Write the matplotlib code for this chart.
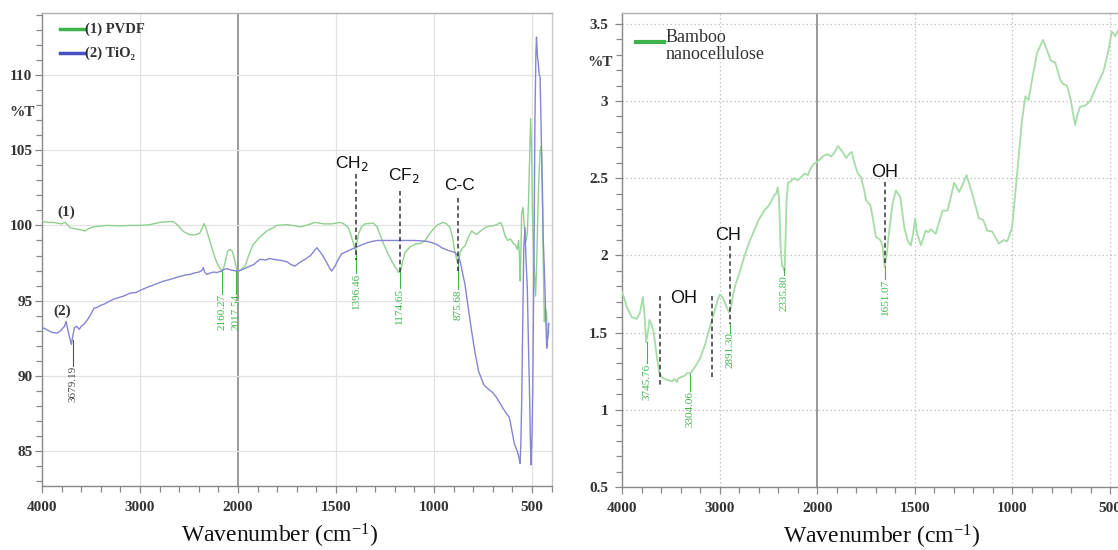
import numpy as np
import matplotlib
matplotlib.use("Agg")
import matplotlib.pyplot as plt
from matplotlib.ticker import FixedLocator, NullFormatter, FixedFormatter
from matplotlib.lines import Line2D

plt.rcParams['font.family'] = ['Liberation Serif', 'DejaVu Serif']
plt.rcParams['mathtext.fontset'] = 'custom'
plt.rcParams['mathtext.rm'] = 'Liberation Serif'
plt.rcParams['mathtext.it'] = 'Liberation Serif:italic'

# ---------------- data (left panel) ----------------
pvdf_wn = [4000, 3987, 3940, 3885, 3800, 3765, 3740, 3714, 3680, 3646, 3600, 3561, 3520, 3476, 3400,
           3340, 3200, 3100, 3000, 2900, 2796, 2700, 2660, 2630, 2609, 2580, 2558, 2500, 2456, 2420,
           2388, 2360, 2347, 2330, 2303, 2270, 2235, 2200, 2166, 2150, 2133, 2115, 2105, 2082, 2060,
           2048, 2030, 2010, 1990, 1964, 1940, 1922, 1890, 1854, 1820, 1803, 1750, 1709, 1684, 1640,
           1607, 1560, 1522, 1480, 1460, 1437, 1420, 1400, 1386, 1370, 1352, 1310, 1290, 1276, 1255,
           1233, 1210, 1180, 1170, 1160, 1148, 1120, 1097, 1070, 1046, 1025, 1004, 980, 953, 935,
           918, 905, 896, 880, 872, 867, 855, 842, 825, 808, 795, 782, 765, 740, 720,
           700, 680, 660, 650, 640, 625, 610, 595, 585, 575, 568, 563, 560, 556, 553,
           546, 540, 532, 524, 518, 513, 507, 502, 498, 494, 488, 482, 476, 470, 464,
           458, 452, 447, 442, 437, 432, 426, 420, 414]
pvdf_t = [100.3, 100.25, 100.2, 100.2, 100.1, 100.2, 100.05, 99.85, 99.8, 99.75, 99.7, 99.63, 99.8, 99.9, 99.95,
          100.0, 99.97, 100.0, 100.0, 100.05, 100.2, 100.25, 100.25, 100.1, 99.97, 99.75, 99.6, 99.4, 99.37, 99.4,
          99.5, 99.9, 100.12, 99.9, 99.3, 98.6, 97.85, 97.3, 96.97, 97.1, 97.5, 98.0, 98.3, 98.4, 98.3,
          98.07, 97.6, 96.97, 97.0, 97.3, 98.2, 98.75, 99.2, 99.63, 99.85, 100.0, 100.05, 99.97, 99.9, 100.05,
          100.2, 100.1, 100.1, 100.2, 100.1, 99.85, 99.2, 98.3, 99.4, 99.9, 100.1, 100.15, 99.9, 99.4, 98.7,
          98.07, 97.5, 96.87, 97.0, 97.6, 98.2, 98.6, 98.75, 98.8, 98.97, 99.4, 99.75, 100.05, 100.2, 100.1,
          99.85, 99.2, 98.4, 97.5, 97.6, 98.2, 98.5, 98.63, 99.2, 99.63, 99.5, 99.4, 99.6, 99.85, 99.95,
          99.97, 100.05, 100.2, 99.9, 99.4, 99.0, 99.1, 98.8, 98.7, 98.4, 99.0, 97.5, 96.3, 98.5, 100.8,
          101.2, 100.0, 98.9, 99.5, 101.5, 104.0, 107.1, 105.0, 101.0, 99.0, 97.0, 95.3, 97.5, 101.0, 103.5,
          105.0, 105.3, 103.0, 97.0, 93.6, 94.5, 94.2, 92.5, 93.0]

tio2_wn = [4000, 3970, 3952, 3900, 3850, 3820, 3799, 3770, 3755, 3740, 3720, 3700, 3690, 3670, 3646,
           3620, 3600, 3578, 3540, 3510, 3493, 3470, 3440, 3400, 3374, 3330, 3270, 3220, 3170, 3100,
           3040, 3000, 2940, 2880, 2830, 2760, 2700, 2660, 2600, 2540, 2490, 2440, 2400, 2370, 2354,
           2340, 2320, 2280, 2250, 2217, 2180, 2150, 2115, 2080, 2040, 2003, 1980, 1956, 1920, 1888,
           1860, 1840, 1820, 1790, 1752, 1730, 1709, 1690, 1658, 1630, 1598, 1585, 1573, 1550, 1530,
           1522, 1505, 1490, 1472, 1440, 1403, 1370, 1340, 1318, 1290, 1267, 1200, 1148, 1100, 1060,
           1029, 1000, 980, 961, 930, 893, 880, 867, 855, 842, 825, 808, 790, 772, 745,
           720, 700, 682, 650, 625, 617, 610, 600, 590, 575, 565, 561, 557, 553, 548,
           542, 536, 530, 524, 518, 513, 508, 505, 500, 496, 490, 485, 480, 477, 472,
           468, 463, 459, 455, 451, 447, 443, 438, 434, 430, 425, 420, 414]
tio2_t = [93.2, 93.15, 93.08, 92.9, 92.85, 92.95, 93.1, 93.3, 93.63, 93.2, 92.6, 92.1, 92.5, 93.2, 93.3,
          93.1, 93.3, 93.4, 93.7, 94.0, 94.2, 94.5, 94.55, 94.7, 94.75, 94.9, 95.1, 95.2, 95.3, 95.5,
          95.55, 95.68, 95.85, 96.0, 96.12, 96.3, 96.4, 96.48, 96.6, 96.7, 96.75, 96.85, 96.9, 97.0, 97.2,
          96.9, 96.75, 96.85, 96.9, 96.87, 96.95, 97.05, 97.13, 97.05, 97.0, 96.97, 97.05, 97.2, 97.4, 97.75,
          97.7, 97.8, 97.75, 97.7, 97.6, 97.4, 97.3, 97.5, 97.75, 98.0, 98.52, 98.3, 98.1, 97.6, 97.1,
          96.97, 97.3, 97.7, 98.1, 98.3, 98.52, 98.7, 98.85, 98.93, 99.0, 99.0, 99.0, 99.0, 99.0, 98.97,
          98.93, 98.8, 98.7, 98.52, 98.35, 98.2, 98.0, 97.63, 96.9, 96.08, 94.5, 92.97, 91.5, 90.3, 89.4,
          89.1, 88.9, 88.6, 87.9, 87.4, 87.3, 86.9, 86.2, 85.5, 85.0, 84.5, 84.2, 85.5, 88.0, 93.0,
          98.5, 99.85, 97.5, 95.9, 92.0, 89.2, 85.5, 84.1, 86.0, 89.2, 98.0, 107.0, 111.5, 112.5, 111.2,
          110.8, 110.0, 109.85, 107.5, 104.8, 102.0, 99.2, 97.3, 95.9, 93.8, 91.85, 92.5, 93.5]

# ---------------- data (right panel) ----------------
bamboo_wn = [4000, 3975, 3951, 3900, 3849, 3815, 3787, 3770, 3753, 3735, 3718, 3694, 3675, 3660, 3640,
             3615, 3590, 3557, 3520, 3488, 3460, 3440, 3420, 3402, 3360, 3330, 3299, 3260, 3230, 3196,
             3150, 3110, 3070, 3041, 3015, 2997, 2970, 2948, 2925, 2904, 2885, 2860, 2835, 2790, 2749,
             2700, 2646, 2600, 2543, 2500, 2474, 2440, 2420, 2405, 2392, 2375, 2360, 2345, 2335, 2325,
             2315, 2300, 2270, 2240, 2199, 2160, 2130, 2096, 2070, 2040, 2000, 1963, 1945, 1929, 1910,
             1894, 1870, 1852, 1835, 1823, 1810, 1792, 1776, 1759, 1750, 1728, 1715, 1699, 1677, 1665,
             1655, 1645, 1631, 1615, 1597, 1575, 1554, 1535, 1520, 1508, 1498, 1490, 1469, 1455, 1444,
             1430, 1418, 1393, 1375, 1358, 1333, 1315, 1299, 1273, 1255, 1235, 1206, 1172, 1150, 1129,
             1104, 1085, 1070, 1044, 1027, 1002, 976, 951, 934, 917, 900, 874, 844, 823, 803,
             781, 755, 740, 721, 701, 690, 679, 665, 653, 628, 602, 585, 568, 534, 508,
             491, 474, 459, 440, 400]
bamboo_t = [1.762, 1.72, 1.664, 1.60, 1.589, 1.63, 1.73, 1.62, 1.437, 1.50, 1.582, 1.545, 1.50, 1.427, 1.33,
            1.232, 1.21, 1.199, 1.19, 1.184, 1.20, 1.18, 1.205, 1.21, 1.22, 1.24, 1.235, 1.27, 1.30, 1.34,
            1.42, 1.513, 1.60, 1.664, 1.72, 1.745, 1.73, 1.697, 1.66, 1.632, 1.66, 1.75, 1.816, 1.90, 1.989,
            2.08, 2.162, 2.23, 2.29, 2.32, 2.346, 2.39, 2.40, 2.44, 2.38, 2.05, 1.93, 1.92, 1.90, 2.10,
            2.35, 2.47, 2.48, 2.50, 2.487, 2.51, 2.53, 2.52, 2.56, 2.59, 2.606, 2.65, 2.655, 2.64, 2.67,
            2.708, 2.67, 2.63, 2.66, 2.67, 2.60, 2.53, 2.508, 2.42, 2.357, 2.325, 2.24, 2.12, 2.10, 2.06,
            1.925, 2.00, 2.16, 2.33, 2.42, 2.38, 2.18, 2.09, 2.065, 2.15, 2.24, 2.15, 2.065, 2.12, 2.16,
            2.15, 2.17, 2.14, 2.22, 2.29, 2.29, 2.38, 2.47, 2.41, 2.46, 2.52, 2.40, 2.24, 2.23, 2.16,
            2.155, 2.11, 2.076, 2.10, 2.09, 2.18, 2.53, 2.877, 3.03, 3.006, 3.136, 3.31, 3.396, 3.33, 3.26,
            3.25, 3.136, 3.11, 3.10, 3.006, 2.92, 2.844, 2.92, 2.963, 2.97, 3.0, 3.05, 3.10, 3.19, 3.33,
            3.45, 3.42, 3.46, 3.44, 3.42]

# peak labels: (wavenumber, leader start, leader end / label top)
pvdf_peaks = [(2160.27, 96.95, 95.45), (2017.54, 96.95, 95.45), (1396.46, 98.3, 96.85),
              (1174.65, 96.9, 95.85), (875.68, 97.5, 95.75)]
tio2_peaks = [(3679.19, 92.4, 90.65)]
bamboo_peaks = [(3745.76, 1.437, 1.30), (3304.06, 1.232, 1.123), (2891.30, 1.556, 1.50),
                (2335.80, 1.92, 1.87), (1651.07, 1.93, 1.85)]

left_groups = ["CH$_2$", "CF$_2$", "C-C"]
left_group_wn = [1396.46, 1174.65, 875.68]
left_group_dash = [(103.4, 97.7), (102.3, 96.8), (101.8, 97.0)]
left_group_txt = [(1418, 104.1), (1153, 103.3), (872, 102.63)]

x_major = [4000, 3000, 2000, 1500, 1000, 500]
x_labels = ["4000", "3000", "2000", "1500", "1000", "500"]
x_minor = list(range(4000, 2000, -200)) + list(range(2000, 399, -100))
left_yticks = [85, 90, 95, 100, 105, 110]
right_yticks = [0.5, 1, 1.5, 2, 2.5, 3, 3.5]
right_ylabels = ["0.5", "1", "1.5", "2", "2.5", "3", "3.5"]


def fwd(w):
    w = np.asarray(w, dtype=float)
    return np.where(w <= 2000, w, 2000 + (w - 2000) / 2.0)


def inv(u):
    u = np.asarray(u, dtype=float)
    return np.where(u <= 2000, u, 2000 + (u - 2000) * 2.0)


W, H = 1118, 550
fig = plt.figure(figsize=(W / 100, H / 100), dpi=100)

GREEN = '#8fd08f'
BLUE = '#8585d4'
LBL_GREEN = '#3fb54a'


def style_axis(ax, grid_ls, grid_col):
    ax.set_xscale('function', functions=(fwd, inv))
    ax.set_xlim(4000, 400)
    ax.xaxis.set_major_locator(FixedLocator(x_major))
    ax.xaxis.set_major_formatter(FixedFormatter(x_labels))
    ax.xaxis.set_minor_locator(FixedLocator(x_minor))
    ax.xaxis.set_minor_formatter(NullFormatter())
    for w in [3000, 1500, 1000, 500]:
        ax.axvline(w, color=grid_col, lw=0.9, ls=grid_ls, zorder=0)
    ax.axvline(2000, color='#9a9a9a', lw=1.4, zorder=0)
    for s, c in [('left', '#888888'), ('bottom', '#888888'), ('top', '#b0b0b0'), ('right', '#c8c8c8')]:
        ax.spines[s].set_color(c)
        ax.spines[s].set_linewidth(1.0)
    ax.tick_params(which='both', direction='out', color='#888888', width=0.9)
    ax.tick_params(which='major', length=5)
    ax.tick_params(which='minor', length=4.5)
    ax.tick_params(axis='x', labelsize=11, labelcolor='#333333', pad=6)


# ---------------- left panel ----------------
ax1 = fig.add_axes([42 / W, 64 / H, 509.6 / W, 473 / H])
ax1.set_ylim(82.7, 114.1)
style_axis(ax1, '-', '#e2e2e2')
ax1.yaxis.set_major_locator(FixedLocator(left_yticks))
ax1.yaxis.set_minor_locator(FixedLocator(list(range(83, 115))))
ax1.yaxis.set_minor_formatter(NullFormatter())
ax1.tick_params(axis='y', labelsize=11, labelcolor='#333333', pad=2)
for v in left_yticks:
    ax1.axhline(v, color='#e2e2e2', lw=0.9, zorder=0)
for lab in ax1.get_xticklabels() + ax1.get_yticklabels():
    lab.set_fontweight('bold')

ax1.plot(pvdf_wn, pvdf_t, color=GREEN, lw=1.0, zorder=3)
ax1.plot(tio2_wn, tio2_t, color=BLUE, lw=1.0, zorder=3)

for (w, y0, y1) in pvdf_peaks:
    ax1.plot([w, w], [y0, y1], color=LBL_GREEN, lw=0.8, zorder=4)
    ax1.text(w, y1, f"{w:.2f}", rotation=90, ha='center', va='top', fontsize=8,
             color=LBL_GREEN, zorder=5)
for (w, y0, y1) in tio2_peaks:
    ax1.plot([w, w], [y0, y1], color='#555555', lw=0.8, zorder=4)
    ax1.text(w, y1, f"{w:.2f}", rotation=90, ha='center', va='top', fontsize=8,
             color='#444444', zorder=5)

for lab, w, (d0, d1), (tx, ty) in zip(left_groups, left_group_wn, left_group_dash, left_group_txt):
    ax1.plot([w, w], [d0, d1], color='#333333', lw=1.1, ls=(0, (3, 2)), zorder=6)
    ax1.text(tx, ty, lab, ha='center', va='center', fontsize=12.5, color='#111111',
             family=['Liberation Sans', 'DejaVu Sans'], zorder=6,
             math_fontfamily='dejavusans')

ax1.text(3755, 100.85, "(1)", ha='center', va='center', fontsize=11, color='#333333', fontweight='bold')
ax1.text(3791, 94.3, "(2)", ha='center', va='center', fontsize=11, color='#333333', fontweight='bold')

# legend (left)
fig.add_artist(Line2D([60 / W, 84 / W], [1 - 29 / H, 1 - 29 / H], color='#3cb44b', lw=2.5))
fig.add_artist(Line2D([60 / W, 84 / W], [1 - 53 / H, 1 - 53 / H], color='#4a4fc2', lw=2.5))
fig.text(85 / W, 1 - 29 / H, "(1) PVDF", ha='left', va='center', fontsize=10.5, color='#333333',
         fontweight='bold')
fig.text(85 / W, 1 - 53 / H, "(2) TiO\u2082", ha='left', va='center', fontsize=10.5, color='#333333',
         fontweight='bold')
fig.text(22 / W, 1 - 113 / H, "%T", ha='center', va='center', fontsize=11, color='#333333',
         fontweight='bold')
fig.text(280 / W, 1 - 536 / H, "Wavenumber (cm$^{\\mathregular{-1}}$)", ha='center', va='center',
         fontsize=17, color='#111111')

# ---------------- right panel ----------------
ax2 = fig.add_axes([622 / W, 63 / H, 507.6 / W, 474 / H])
ax2.set_ylim(0.5, 3.57)
style_axis(ax2, (0, (1.2, 2)), '#c4c4c4')
ax2.yaxis.set_major_locator(FixedLocator(right_yticks))
ax2.yaxis.set_major_formatter(FixedFormatter(right_ylabels))
ax2.yaxis.set_minor_locator(FixedLocator([round(0.5 + 0.1 * i, 2) for i in range(31)]))
ax2.yaxis.set_minor_formatter(NullFormatter())
ax2.tick_params(axis='y', labelsize=11, labelcolor='#333333', pad=5)
for v in right_yticks[1:]:
    ax2.axhline(v, color='#c4c4c4', lw=0.9, ls=(0, (1.2, 2)), zorder=0)
for lab in ax2.get_xticklabels() + ax2.get_yticklabels():
    lab.set_fontweight('bold')

ax2.plot(bamboo_wn, bamboo_t, color='#a6dca6', lw=1.3, zorder=3)

for (w, y0, y1) in bamboo_peaks:
    ax2.plot([w, w], [y0, y1], color=LBL_GREEN, lw=0.8, zorder=4)
    ax2.text(w, y1, f"{w:.2f}", rotation=90, ha='center', va='top', fontsize=8,
             color=LBL_GREEN, zorder=5)

dash_kw = dict(color='#333333', lw=1.1, ls=(0, (3, 2)), zorder=6)
sans = ['Liberation Sans', 'DejaVu Sans']
ax2.plot([3615, 3615], [1.74, 1.156], **dash_kw)
ax2.plot([3075, 3075], [1.74, 1.20], **dash_kw)
ax2.plot([2891.30, 2891.30], [2.06, 1.556], **dash_kw)
ax2.plot([1651.07, 1651.07], [2.476, 1.946], **dash_kw)
ax2.text(3371, 1.724, "OH", ha='center', va='center', fontsize=13, family=sans, color='#111111')
ax2.text(2917, 2.13, "CH", ha='center', va='center', fontsize=13, family=sans, color='#111111')
ax2.text(1653, 2.54, "OH", ha='center', va='center', fontsize=13, family=sans, color='#111111')

fig.add_artist(Line2D([636 / W, 664 / W], [1 - 42 / H, 1 - 42 / H], color='#3cb44b', lw=3))
fig.text(666 / W, 1 - 46 / H, "Bamboo\nnanocellulose", ha='left', va='center', fontsize=13,
         color='#333333', linespacing=1.05)
fig.text(600 / W, 1 - 63 / H, "%T", ha='center', va='center', fontsize=11, color='#333333',
         fontweight='bold')
fig.text(882 / W, 1 - 537 / H, "Wavenumber (cm$^{\\mathregular{-1}}$)", ha='center', va='center',
         fontsize=17, color='#111111')

fig.savefig("out.png", dpi=100)
